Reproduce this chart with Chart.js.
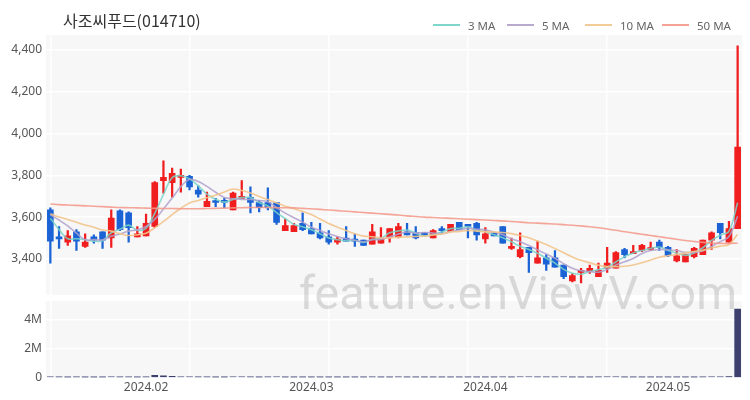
<!DOCTYPE html>
<html>
<head>
<meta charset="utf-8">
<script src="https://cdn.jsdelivr.net/npm/chart.js@4.4.1/dist/chart.umd.min.js"></script>
<style>
  html, body { margin: 0; padding: 0; background: #fff; }
  #wrap { position: relative; width: 750px; height: 400px; overflow: hidden; font-family: "Noto Sans CJK KR", "Noto Sans", sans-serif; }
  #title { position: absolute; left: 63px; top: 8px; font-size: 16px; color: #333; }
  .lg { position: absolute; top: 17px; height: 16px; display: flex; align-items: center; font-size: 11.5px; color: #666; font-family: "Noto Sans", sans-serif; }
  .lg i { display: inline-block; width: 27px; height: 2px; margin-right: 8px; }
  #priceBox { position: absolute; left: 0; top: 0; width: 750px; height: 306px; }
  #volBox { position: absolute; left: 0; top: 290px; width: 750px; height: 110px; }
  #wm { position: absolute; left: 299px; top: 266px; font-size: 46.5px; color: rgba(120,120,120,0.25); font-family: Roboto, sans-serif; pointer-events: none; white-space: nowrap; }
</style>
</head>
<body>
<div id="wrap">
  <div id="priceBox"><canvas id="price"></canvas></div>
  <div id="volBox"><canvas id="vol"></canvas></div>
  <div id="title">사조씨푸드(014710)</div>
  <div class="lg" style="left:433px"><i style="background:#7fd6ca"></i>3 MA</div>
  <div class="lg" style="left:507px"><i style="background:#b8a9cf"></i>5 MA</div>
  <div class="lg" style="left:585px"><i style="background:#f2cb98"></i>10 MA</div>
  <div class="lg" style="left:662px"><i style="background:#f6a296"></i>50 MA</div>
  <div id="wm">feature.enViewV.com</div>
</div>
<script>
// ============== Data ==============
const dates = [
  "2024.01.17","2024.01.18","2024.01.19","2024.01.22","2024.01.23","2024.01.24","2024.01.25","2024.01.26","2024.01.29","2024.01.30","2024.01.31",
  "2024.02.01","2024.02.02","2024.02.05","2024.02.06","2024.02.07","2024.02.08","2024.02.13","2024.02.14","2024.02.15","2024.02.16",
  "2024.02.19","2024.02.20","2024.02.21","2024.02.22","2024.02.23","2024.02.26","2024.02.27","2024.02.28","2024.02.29",
  "2024.03.04","2024.03.05","2024.03.06","2024.03.07","2024.03.08","2024.03.11","2024.03.12","2024.03.13","2024.03.14","2024.03.15",
  "2024.03.18","2024.03.19","2024.03.20","2024.03.21","2024.03.22","2024.03.25","2024.03.26","2024.03.27","2024.03.28","2024.03.29",
  "2024.04.01","2024.04.02","2024.04.03","2024.04.04","2024.04.05","2024.04.08","2024.04.09","2024.04.11","2024.04.12","2024.04.15",
  "2024.04.16","2024.04.17","2024.04.18","2024.04.19","2024.04.22","2024.04.23","2024.04.24","2024.04.25","2024.04.26","2024.04.29","2024.04.30",
  "2024.05.02","2024.05.03","2024.05.07","2024.05.08","2024.05.09","2024.05.10","2024.05.13","2024.05.14","2024.05.16"
];

const opens = [
  3635,3505,3480,3530,3460,3505,3530,3500,3630,3620,3505,
  3510,3555,3775,3765,3790,3795,3730,3650,3675,3680,
  3635,3690,3695,3670,3670,3670,3535,3530,3570,
  3545,3525,3505,3480,3500,3495,3490,3470,3475,3505,
  3505,3530,3525,3525,3500,3545,3530,3575,3565,3570,
  3495,3525,3555,3450,3410,3455,3380,3405,3405,3370,
  3295,3335,3340,3315,3355,3355,3445,3425,3440,3445,3480,
  3455,3390,3385,3410,3420,3490,3570,3480,3545
];
const highs = [
  3645,3555,3535,3540,3520,3515,3530,3635,3635,3625,3555,
  3615,3770,3870,3835,3830,3800,3750,3720,3690,3690,
  3720,3775,3745,3680,3740,3670,3590,3570,3620,
  3575,3570,3535,3505,3555,3520,3490,3565,3550,3545,
  3570,3570,3555,3525,3540,3555,3565,3575,3565,3575,
  3550,3525,3555,3500,3525,3455,3485,3420,3440,3370,
  3330,3355,3370,3380,3455,3435,3450,3465,3470,3480,3490,
  3460,3445,3420,3455,3490,3530,3570,3580,4420
];
const lows = [
  3380,3450,3465,3440,3455,3475,3450,3455,3535,3480,3505,
  3510,3550,3715,3695,3720,3730,3695,3650,3650,3645,
  3635,3690,3620,3625,3635,3565,3535,3530,3535,
  3520,3495,3470,3470,3485,3460,3465,3470,3475,3480,
  3500,3515,3495,3510,3500,3525,3530,3540,3500,3490,
  3475,3510,3475,3445,3405,3335,3380,3345,3360,3305,
  3290,3285,3330,3315,3335,3355,3405,3425,3435,3440,3440,
  3410,3385,3385,3405,3420,3445,3495,3480,3545
];
const closes = [
  3485,3495,3510,3485,3480,3490,3490,3595,3540,3550,3520,
  3570,3765,3790,3810,3795,3745,3710,3675,3670,3670,
  3715,3695,3670,3645,3645,3575,3560,3560,3540,
  3520,3500,3480,3495,3485,3485,3465,3530,3500,3545,
  3555,3515,3500,3515,3535,3535,3565,3540,3555,3515,
  3520,3510,3475,3460,3445,3430,3405,3375,3360,3315,
  3320,3345,3355,3345,3380,3430,3420,3435,3465,3450,3455,
  3415,3415,3420,3450,3490,3525,3525,3545,3935
];
// closes of the sessions just before the visible window (for the short MAs)
const priorCloses = [3640, 3630, 3620, 3610, 3600, 3620, 3650, 3660, 3640];

const ma50 = [
  3663,3660,3658,3656,3654,3652,3650,3648,3646,3645,3644,
  3643,3642,3641,3641,3640,3640,3640,3641,3642,3643,
  3644,3645,3646,3646,3646,3645,3645,3644,3642,
  3640,3637,3634,3631,3628,3625,3622,3619,3616,3613,
  3610,3606,3603,3600,3598,3596,3594,3592,3590,3588,
  3586,3584,3582,3579,3576,3573,3571,3569,3567,3564,
  3561,3558,3554,3549,3543,3537,3530,3524,3518,3512,3506,
  3500,3494,3488,3483,3479,3476,3474,3474,3475
];

const volumes = [
  45000,30000,20000,25000,20000,15000,20000,40000,35000,25000,15000,
  30000,160000,130000,90000,60000,50000,35000,25000,15000,15000,
  40000,45000,30000,20000,30000,40000,20000,15000,20000,
  15000,15000,20000,12000,20000,15000,15000,30000,20000,20000,
  25000,15000,15000,10000,15000,12000,20000,15000,15000,20000,
  15000,10000,25000,20000,40000,60000,35000,25000,30000,45000,
  20000,20000,15000,25000,45000,40000,20000,15000,15000,15000,20000,
  20000,20000,15000,20000,35000,45000,55000,70000,4750000
];

const priceTicks = [3400, 3600, 3800, 4000, 4200, 4400];
const volTicks = [0, 2000000, 4000000];

// ============== Helpers ==============
const UP = "#f01e1e";
const DOWN = "#1b63d5";
const AXIS_FONT = { size: 12, family: "'Noto Sans', sans-serif" };

function movingAvg(n) {
  const all = priorCloses.concat(closes);
  const off = priorCloses.length;
  return closes.map((_, i) => {
    const slice = all.slice(off + i - n + 1, off + i + 1);
    return slice.reduce((a, b) => a + b, 0) / slice.length;
  });
}

function isMonthStart(i) {
  return i > 0 && dates[i].slice(5, 7) !== dates[i - 1].slice(5, 7);
}

const candleColors = closes.map((c, i) => c >= opens[i] ? UP : DOWN);

const plotBg = {
  id: "plotBg",
  beforeDraw(chart) {
    const { ctx, chartArea: a } = chart;
    ctx.save();
    ctx.fillStyle = "#f7f7f8";
    ctx.fillRect(a.left, a.top, a.right - a.left, a.bottom - a.top);
    ctx.restore();
  }
};

const xGrid = {
  offset: false,
  drawTicks: false,
  lineWidth: 1.5,
  color: ctx => (ctx.index % 16 === 0 ? "#ffffff" : "rgba(0,0,0,0)")
};

function maLine(label, data, color) {
  return {
    type: "line", label, data,
    borderColor: color, borderWidth: 1.6,
    pointRadius: 0, tension: 0.35, order: 0
  };
}

// ============== Price chart ==============
new Chart(document.getElementById("price"), {
  type: "bar",
  data: {
    labels: dates,
    datasets: [
      maLine("50 MA", ma50, "rgba(245,150,135,0.85)"),
      maLine("10 MA", movingAvg(10), "rgba(242,196,140,0.9)"),
      maLine("5 MA", movingAvg(5), "rgba(175,160,205,0.85)"),
      maLine("3 MA", movingAvg(3), "rgba(120,212,200,0.85)"),
      {
        label: "wick", data: lows.map((l, i) => [l, highs[i]]),
        backgroundColor: candleColors, barThickness: 1.6, grouped: false, order: 2
      },
      {
        label: "body", data: opens.map((o, i) => [o, closes[i]]),
        backgroundColor: candleColors, barThickness: 6, grouped: false, minBarLength: 2, order: 1
      }
    ]
  },
  options: {
    responsive: true,
    maintainAspectRatio: false,
    animation: false,
    layout: { padding: { top: 35, right: 8, left: 0, bottom: 4 } },
    plugins: { legend: { display: false }, tooltip: { enabled: false } },
    scales: {
      x: {
        offset: true,
        grid: xGrid,
        border: { display: false },
        ticks: { display: false }
      },
      y: {
        min: 3228, max: 4472,
        afterBuildTicks: ax => { ax.ticks = priceTicks.map(v => ({ value: v })); },
        afterFit: ax => { ax.width = 46; },
        grid: { color: "#ffffff", lineWidth: 1.5, drawTicks: false },
        border: { display: false },
        ticks: { padding: 4, color: "#555", font: AXIS_FONT, callback: v => v.toLocaleString("en-US") }
      }
    }
  },
  plugins: [plotBg]
});

// ============== Volume chart ==============
new Chart(document.getElementById("vol"), {
  type: "bar",
  data: {
    labels: dates,
    datasets: [{
      label: "Volume", data: volumes,
      backgroundColor: "#3d406e", barThickness: 6
    }]
  },
  options: {
    responsive: true,
    maintainAspectRatio: false,
    animation: false,
    layout: { padding: { top: 0, right: 8, left: 0, bottom: 2 } },
    plugins: { legend: { display: false }, tooltip: { enabled: false } },
    scales: {
      x: {
        offset: true,
        grid: xGrid,
        border: { display: false },
        ticks: {
          autoSkip: false, maxRotation: 0, padding: 3, color: "#555", font: AXIS_FONT,
          callback: (v, i) => (isMonthStart(i) ? dates[i].slice(0, 7) : "")
        }
      },
      y: {
        min: 0, max: 5300000,
        afterBuildTicks: ax => { ax.ticks = volTicks.map(v => ({ value: v })); },
        afterFit: ax => { ax.width = 46; },
        grid: { color: "#ffffff", lineWidth: 1.5, drawTicks: false },
        border: { display: false },
        ticks: { padding: 4, color: "#555", font: AXIS_FONT, callback: v => (v === 0 ? "0" : v / 1000000 + "M") }
      }
    }
  },
  plugins: [plotBg]
});
</script>
</body>
</html>
